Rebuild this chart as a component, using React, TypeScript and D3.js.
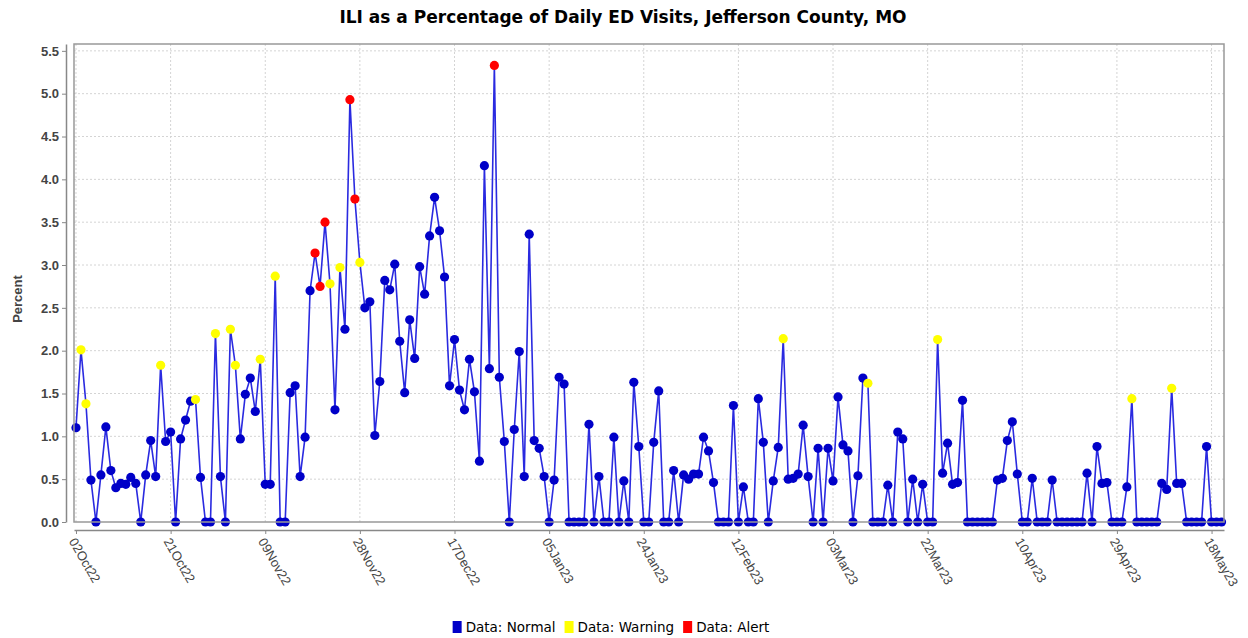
import React, { useEffect, useRef } from "react";
import * as d3 from "d3";

// daily series, starting 02Oct22
const startDate = new Date(2022, 9, 2);

const iliPercent = [
  1.10, 2.01, 1.38, 0.49, 0, 0.55, 1.11, 0.60, 0.40, 0.45,
  0.44, 0.52, 0.45, 0, 0.55, 0.95, 0.53, 1.83, 0.94, 1.05,
  0, 0.97, 1.19, 1.41, 1.43, 0.52, 0, 0, 2.20, 0.53,
  0, 2.25, 1.83, 0.97, 1.49, 1.68, 1.29, 1.90, 0.44, 0.44,
  2.87, 0, 0, 1.51, 1.59, 0.53, 0.99, 2.70, 3.14, 2.75,
  3.50, 2.78, 1.31, 2.97, 2.25, 4.93, 3.77, 3.03, 2.50, 2.57,
  1.01, 1.64, 2.82, 2.71, 3.01, 2.11, 1.51, 2.36, 1.91, 2.98,
  2.66, 3.34, 3.79, 3.40, 2.86, 1.59, 2.13, 1.54, 1.31, 1.90,
  1.52, 0.71, 4.16, 1.79, 5.33, 1.69, 0.94, 0, 1.08, 1.99,
  0.53, 3.36, 0.95, 0.86, 0.53, 0, 0.49, 1.69, 1.61, 0,
  0, 0, 0, 1.14, 0, 0.53, 0, 0, 0.99, 0,
  0.48, 0, 1.63, 0.88, 0, 0, 0.93, 1.53, 0, 0,
  0.60, 0, 0.55, 0.50, 0.56, 0.56, 0.99, 0.83, 0.46, 0,
  0, 0, 1.36, 0, 0.41, 0, 0, 1.44, 0.93, 0,
  0.48, 0.87, 2.14, 0.50, 0.51, 0.56, 1.13, 0.53, 0, 0.86,
  0, 0.86, 0.48, 1.46, 0.90, 0.83, 0, 0.54, 1.68, 1.62,
  0, 0, 0, 0.43, 0, 1.05, 0.97, 0, 0.50, 0,
  0.44, 0, 0, 2.13, 0.57, 0.92, 0.44, 0.46, 1.42, 0,
  0, 0, 0, 0, 0, 0.49, 0.51, 0.95, 1.17, 0.56,
  0, 0, 0.51, 0, 0, 0, 0.49, 0, 0, 0,
  0, 0, 0, 0.57, 0, 0.88, 0.45, 0.46, 0, 0,
  0, 0.41, 1.44, 0, 0, 0, 0, 0, 0.45, 0.38,
  1.56, 0.45, 0.45, 0, 0, 0, 0, 0.88, 0, 0,
  0,
];

const warningDays = [1, 2, 17, 24, 28, 31, 32, 37, 40, 51, 53, 57, 142, 159, 173, 212, 220];
const alertDays = [48, 49, 50, 55, 56, 84];

const yTicks = [0, 0.5, 1, 1.5, 2, 2.5, 3, 3.5, 4, 4.5, 5, 5.5];
const xTickDays = [0, 19, 38, 57, 76, 95, 114, 133, 152, 171, 190, 209, 228];

const legendLabels = ["Data: Normal", "Data: Warning", "Data: Alert"];

export default function App() {
  const svgRef = useRef<SVGSVGElement>(null);

  useEffect(() => {
    const svg = d3.select(svgRef.current);
    svg.selectAll("*").remove();

    const plot = { left: 74, right: 1224, top: 44, bottom: 522 };
    const colors = ["#0000c8", "#ffff00", "#ff0000"];
    const font = "'Liberation Sans', Arial, sans-serif";
    const wideFont = "'DejaVu Sans', Verdana, sans-serif";
    const fmt = d3.timeFormat("%d%b%y");

    const x = d3.scaleLinear().domain([-0.4, 230.5]).range([plot.left, plot.right]);
    const y = d3.scaleLinear().domain([0, 5.58]).range([plot.bottom, plot.top]);

    const statusOf = (i: number) =>
      alertDays.includes(i) ? 2 : warningDays.includes(i) ? 1 : 0;

    // grid
    const grid = svg.append("g").attr("stroke", "#d4d4d4").attr("stroke-dasharray", "2,2");
    grid.selectAll(".hg")
      .data(yTicks.slice(1))
      .enter()
      .append("line")
      .attr("x1", plot.left).attr("x2", plot.right)
      .attr("y1", (d) => y(d)).attr("y2", (d) => y(d));
    grid.selectAll(".vg")
      .data(xTickDays)
      .enter()
      .append("line")
      .attr("y1", plot.top).attr("y2", plot.bottom)
      .attr("x1", (d) => x(d)).attr("x2", (d) => x(d));

    // line
    const line = d3.line<number>()
      .x((_, i) => x(i))
      .y((d) => y(d));

    svg.append("path")
      .datum(iliPercent)
      .attr("fill", "none")
      .attr("stroke", "#2a2ae0")
      .attr("stroke-width", 1.6)
      .attr("d", line);

    svg.append("g")
      .selectAll("circle")
      .data(iliPercent)
      .enter()
      .append("circle")
      .attr("cx", (_, i) => x(i))
      .attr("cy", (d) => y(d))
      .attr("r", 4.6)
      .attr("fill", (_, i) => colors[statusOf(i)]);

    // plot frame
    svg.append("rect")
      .attr("x", plot.left).attr("y", plot.top)
      .attr("width", plot.right - plot.left).attr("height", plot.bottom - plot.top)
      .attr("fill", "none").attr("stroke", "#999").attr("stroke-width", 1.5);

    // y axis
    const yAxis = d3.axisLeft(y)
      .tickValues(yTicks)
      .tickFormat(d3.format(".1f"))
      .tickSize(4)
      .tickSizeOuter(0);
    const yg = svg.append("g")
      .attr("transform", `translate(66,0)`)
      .call(yAxis);
    yg.select(".domain").attr("stroke", "#888").attr("stroke-width", 1.5);
    yg.selectAll(".tick line").attr("stroke", "#888");
    yg.selectAll(".tick text")
      .attr("fill", "#444")
      .style("font", `bold 13px ${font}`);

    // x axis
    const xAxis = d3.axisBottom(x)
      .tickValues(xTickDays)
      .tickFormat((d) => fmt(d3.timeDay.offset(startDate, d as number)))
      .tickSize(4)
      .tickSizeOuter(0);
    const xg = svg.append("g")
      .attr("transform", `translate(0,530)`)
      .call(xAxis);
    xg.select(".domain").attr("stroke", "#888").attr("stroke-width", 1.5);
    xg.selectAll(".tick line").attr("stroke", "#888");
    xg.selectAll(".tick text")
      .attr("x", 0).attr("y", 0).attr("dy", "0.35em")
      .attr("transform", "translate(-4,9) rotate(60)")
      .style("text-anchor", "start")
      .attr("fill", "#444")
      .style("font", `13px ${font}`);

    // titles
    svg.append("text")
      .attr("x", 623).attr("y", 23)
      .attr("text-anchor", "middle")
      .style("font", `bold 17px ${wideFont}`)
      .text("ILI as a Percentage of Daily ED Visits, Jefferson County, MO");

    svg.append("text")
      .attr("transform", `translate(22,299) rotate(-90)`)
      .attr("text-anchor", "middle")
      .attr("fill", "#444")
      .style("font", `bold 13px ${font}`)
      .text("Percent");

    // legend
    const lg = svg.append("g");
    const items = legendLabels.map((label, i) => {
      const g = lg.append("g");
      g.append("rect").attr("x", 0).attr("y", -11).attr("width", 9).attr("height", 12).attr("fill", colors[i]);
      const t = g.append("text").attr("x", 13).attr("y", 0).style("font", `13.5px ${wideFont}`).text(label);
      const w = (t.node() as SVGTextElement).getComputedTextLength() + 13;
      return { g, w };
    });
    const gap = 9;
    const total = d3.sum(items, (d) => d.w) + gap * (items.length - 1);
    let cx = 611 - total / 2;
    items.forEach((it) => {
      it.g.attr("transform", `translate(${cx},632)`);
      cx += it.w + gap;
    });
  }, []);

  return (
    <div style={{ position: "absolute", left: 0, top: 0, background: "white" }}>
      <svg ref={svgRef} width="1248" height="638"></svg>
    </div>
  );
}
